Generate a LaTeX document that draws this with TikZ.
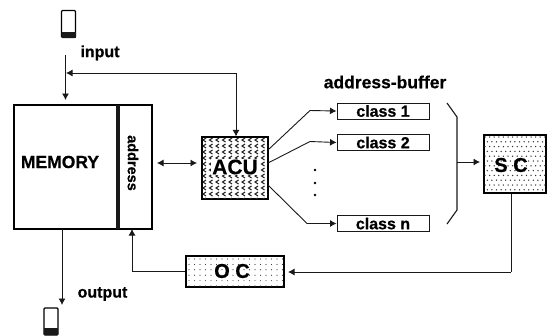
\documentclass[tikz,border=0pt]{standalone}
\usepackage{fontspec}
\setmainfont{Liberation Sans}[BoldFeatures={FakeBold=0.6}]
\usetikzlibrary{arrows.meta}
\tikzset{
  wire/.style={draw=black!90,line width=0.9pt},
  arr/.style={wire,-{Latex[length=6.5pt,width=7pt]}},
  darr/.style={wire,{Latex[length=6.5pt,width=7pt]}-{Latex[length=6.5pt,width=7pt]}},
  lbl/.style={font=\bfseries\fontsize{16}{16}\selectfont,inner sep=0pt},
  classbox/.style={draw=black!90,line width=1pt,minimum width=92pt,minimum height=16pt,inner sep=0pt,font=\bfseries\fontsize{16}{16}\selectfont},
  box/.style={draw=black,line width=1.2pt,inner sep=0pt},
  bigtext/.style={font=\bfseries\fontsize{20}{20}\selectfont,inner sep=0pt},
  device/.style={draw=black,line width=1.1pt,rounded corners=1pt,minimum width=14pt,minimum height=27pt,inner sep=0pt,fill=white}
}
\begin{document}
\begin{tikzpicture}[x=1pt,y=-1pt]
\useasboundingbox (0,0) rectangle (553,335);
% devices
\node[device] (devin) at (68.5,24) {};
\fill[black!90] (61.5,32) rectangle (75.5,37.5);
\node[device] (devout) at (51,321.5) {};
\fill[black!90] (44,328) rectangle (58,335);
% memory
\node[box,minimum width=138pt,minimum height=124pt] (mem) at (83,167) {};
\fill[black!90] (115.5,105) rectangle (120,229);
\node[font=\bfseries\fontsize{17.5}{17.5}\selectfont,inner sep=0pt] (memlabel) at (60,162) {MEMORY};
\node[font=\bfseries\fontsize{14.5}{14.5}\selectfont,inner sep=0pt,rotate=-90] (addr) at (133,163) {address};
% ACU
\node[box,minimum width=66pt,minimum height=62pt] (acu) at (235,168) {};
\begin{scope}
\clip (acu.south west) rectangle (acu.north east);
\foreach \r in {0,...,10} \foreach \c in {0,...,10}
  \draw[black!85,line width=1.1pt] ({203+\c*6.5+3},{138+\r*6}) -- ++(-3,2) -- ++(3,2);
\end{scope}
\draw[box] (acu.south west) rectangle (acu.north east);
\node[bigtext,font=\bfseries\fontsize{21}{21}\selectfont,fill=white,inner sep=1pt] (acutext) at (235,167) {ACU};
% classes
\node[classbox] (c1) at (383,111) {class 1\hspace{8pt}};
\node[classbox] (c2) at (383,142.5) {class 2\hspace{8pt}};
\node[classbox] (cn) at (383,223.5) {class n\hspace{8pt}};
\node[lbl,font=\bfseries\fontsize{17.5}{17.5}\selectfont] (ab) at (385,82) {address-buffer};
% SC
\node[box,minimum width=62pt,minimum height=58pt] (sc) at (515,164) {};
\begin{scope}
\clip (sc.south west) rectangle (sc.north east);
\foreach \r in {0,...,11} \foreach \c in {0,...,13}
  \fill[black!80] ({485+\c*4.6+mod(\r,2)*2.3},{137+\r*4.8}) circle (0.75pt);
\end{scope}
\node[bigtext] (sctext) at (511,165) {S C};
% OC
\node[box,minimum width=98pt,minimum height=31pt] (oc) at (235,271.5) {};
\begin{scope}
\clip (oc.south west) rectangle (oc.north east);
\foreach \r in {0,...,5} \foreach \c in {0,...,17}
  \fill[black!75] ({189+\c*5.5},{259+\r*5.4}) circle (0.6pt);
\end{scope}
\node[bigtext] (octext) at (232,271) {O C};
% labels
\node[lbl] (inlab) at (100,53) {input};
\node[lbl] (outlab) at (102.5,294) {output};
% coordinates
\coordinate (instart) at (65.5,55);
\coordinate (injoin) at (66,73);
\coordinate (intop) at (236,73);
\coordinate (k1) at (310,110.5);
\coordinate (k2) at (310,141.5);
\coordinate (k3) at (307,223.5);
\coordinate (a1) at (268,150);
\coordinate (a2) at (268,163);
\coordinate (a3) at (268,185);
\coordinate (bt) at (447,103);
\coordinate (bt2) at (457,117);
\coordinate (bm) at (457,162);
\coordinate (bb) at (457,210);
\coordinate (be) at (447,224);
\coordinate (scturn) at (511,272);
\coordinate (octip) at (288,272);
\coordinate (sctip) at (480,162);
\coordinate (ocleft) at (132,271.5);
% connectors
\draw[arr] (instart) -- (65.5,100);
\draw[arr] (intop) -- (injoin);
\draw[arr] (intop) -- (acu.north -| intop);
\draw[darr] (157,163) -- (197,163);
\draw[arr] (a1) -- (k1) -- (c1.west);
\draw[arr] (a2) -- (k2) -- (c2.west);
\draw[arr] (a3) -- (k3) -- (cn.west);
\draw[wire,line width=1.1pt] (bt) -- (bt2) -- (bb) -- (be);
\draw[arr] (bm) -- (sctip);
\draw[wire] (sc.south -| scturn) -- (scturn);
\draw[arr] (scturn) -- (octip);
\draw[wire] (oc.west) -- (ocleft);
\draw[arr] (ocleft) -- (132,229);
\draw[arr] (62,229) -- (62,305);
% dots
\foreach \y in {170,183,195} \fill (315,\y) circle (1.4pt);
\end{tikzpicture}
\end{document}
